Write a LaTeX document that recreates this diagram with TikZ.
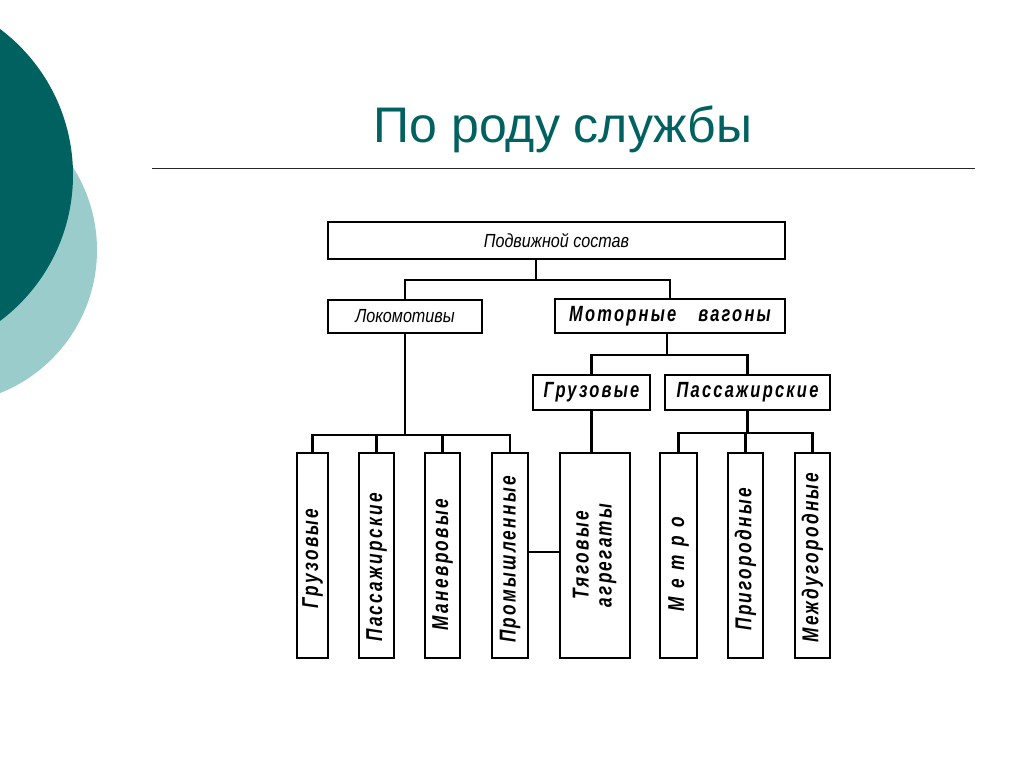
\documentclass[tikz,border=0pt]{standalone}
\usepackage{fontspec}
\setmainfont{Liberation Sans}
\newfontfamily\thinfont[FakeStretch=0.85]{Liberation Sans}
\newfontfamily\drawfont[FakeStretch=0.75,LetterSpace=10]{Liberation Sans}
\definecolor{tealdark}{RGB}{0,98,96}
\definecolor{teallight}{RGB}{155,204,204}
\newcommand\vlabel[2]{\rotatebox{90}{#2\hspace*{#1}}}
\begin{document}
\begin{tikzpicture}[x=1pt,y=-1pt,
  box/.style={draw,line width=1.9pt,inner sep=0pt,anchor=center},
  conn/.style={line width=2.9pt},
  thintext/.style={font=\thinfont\itshape\fontsize{19}{21}\selectfont},
  boldtext/.style={font=\drawfont\bfseries\itshape\fontsize{22}{24}\selectfont},
  vtext/.style={font=\drawfont\bfseries\itshape\fontsize{23}{25}\selectfont}]
\useasboundingbox (0,0) rectangle (1024,767);
\fill[white] (0,0) rectangle (1024,767);
\begin{scope}
  \clip (0,0) rectangle (1024,767);
  \fill[teallight] (-57,250) circle[radius=154];
  \fill[tealdark] (-109.5,175) circle[radius=182.5];
\end{scope}
% title
\node[text=tealdark, font=\fontsize{50}{60}\selectfont, anchor=base] (title) at (563,143) {По роду службы};
\draw[line width=1pt, black!85] (152,169) -- (975,169);
% boxes
\node[box, minimum width=457pt, minimum height=37pt, thintext] (top) at (556.5,240.5) {Подвижной состав};
\node[box, minimum width=154pt, minimum height=33pt, thintext] (lok) at (405,316.5) {Локомотивы};
\node[box, minimum width=230pt, minimum height=34pt, boldtext] (mot) at (670,316) {Моторные\hspace{22pt}вагоны};
\node[box, minimum width=117pt, minimum height=35pt, boldtext] (gr2) at (591.5,392.5) {Грузовые};
\node[box, minimum width=165pt, minimum height=35pt, boldtext] (pas2) at (747.5,392.5) {Пассажирские};
\node[box, minimum width=31pt, minimum height=205pt, vtext] (b1) at (312.5,555.5) {\vlabel{6pt}{Грузовые}};
\node[box, minimum width=35pt, minimum height=205pt, vtext] (b2) at (376.5,555.5) {\vlabel{24pt}{Пассажирские}};
\node[box, minimum width=35pt, minimum height=205pt, vtext] (b3) at (442.5,555.5) {\vlabel{18pt}{Маневровые}};
\node[box, minimum width=36pt, minimum height=205pt, vtext] (b4) at (510,555.5) {\vlabel{8pt}{Промышленные}};
\node[box, minimum width=70pt, minimum height=205pt, vtext] (b5) at (595,555.5) {\vlabel{0pt}{\begin{tabular}{@{}c@{}}Тяговые\\[-2pt]агрегаты\end{tabular}}};
\node[box, minimum width=37pt, minimum height=205pt, vtext] (b6) at (678.5,555.5) {\vlabel{18pt}{\addfontfeatures{LetterSpace=37}Метро}};
\node[box, minimum width=35pt, minimum height=205pt, vtext] (b7) at (745.5,555.5) {\vlabel{8pt}{Пригородные}};
\node[box, minimum width=35pt, minimum height=205pt, vtext] (b8) at (812.5,555.5) {\vlabel{4pt}{Междугородные}};
% junctions
\coordinate (j1) at (536,280);
\coordinate (j2) at (407,435);
\coordinate (j3) at (667,355);
\coordinate (j4) at (747,433);
% connectors
\draw[conn] (top.south -| j1) -- (j1);
\draw[conn] (lok.north) |- (j1) -| (mot.north);
\draw[conn] (lok.south) -- (lok.south |- j2);
\draw[conn] (b1.north) |- (j2) -| (b4.north);
\draw[conn] (b2.north) -- (b2.north |- j2);
\draw[conn] (b3.north) -- (b3.north |- j2);
\draw[conn] (mot.south -| j3) -- (j3);
\draw[conn] (gr2.north) |- (j3) -| (pas2.north);
\draw[conn] (gr2.south) -- (gr2.south |- b5.north);
\draw[conn] (pas2.south) -- (pas2.south |- j4);
\draw[conn] (b6.north) |- (j4) -| (b8.north);
\draw[conn] (b7.north) -- (b7.north |- j4);
\draw[conn] ([yshift=3.5pt]b4.east) -- ([yshift=3.5pt]b5.west);
\end{tikzpicture}
\end{document}
